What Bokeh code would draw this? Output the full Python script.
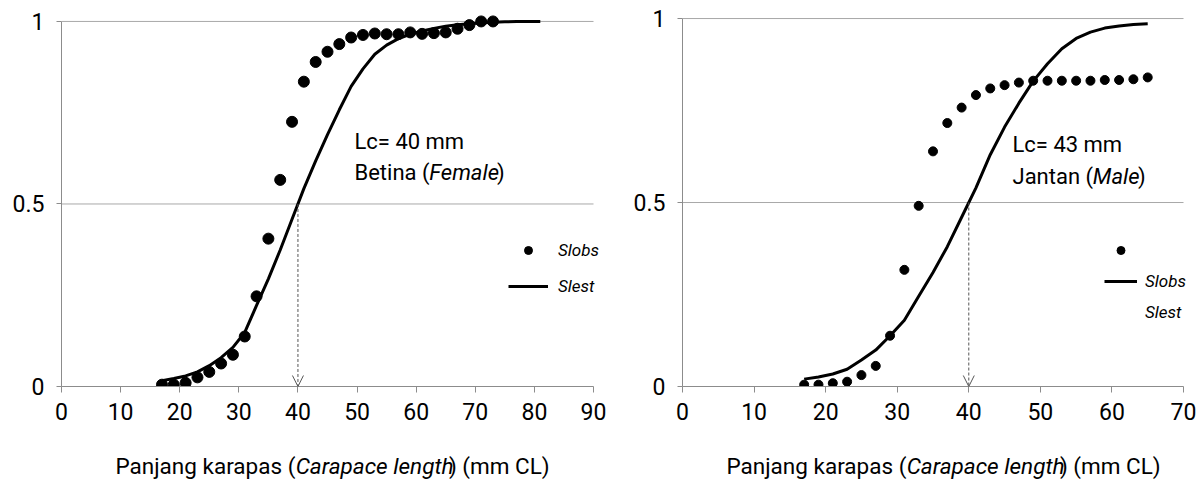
from bokeh.plotting import figure
from bokeh.layouts import row, column
from bokeh.models import Range1d, FixedTicker, Label, Arrow, OpenHead, Legend, LegendItem
from bokeh.embed import file_html
from bokeh.resources import INLINE

# ---------------- data ----------------
female_len_obs = [17, 19, 21, 23, 25, 27, 29, 31, 33, 35, 37, 39, 41, 43, 45, 47, 49, 51, 53, 55,
                  57, 59, 61, 63, 65, 67, 69, 71, 73]
female_si_obs = [0.005, 0.005, 0.01, 0.025, 0.04, 0.063, 0.087, 0.137, 0.247, 0.405, 0.566, 0.725,
                 0.835, 0.889, 0.917, 0.938, 0.956, 0.963, 0.967, 0.965, 0.965, 0.97, 0.966, 0.968,
                 0.97, 0.98, 0.99, 1.0, 1.0]
female_len_est = [17, 19, 21, 23, 25, 27, 29, 31, 33, 35, 37, 39, 41, 43, 45, 47, 49, 51, 53, 55,
                  57, 59, 61, 63, 65, 67, 69, 71, 73, 75, 77, 79, 81]
female_si_est = [0.016, 0.022, 0.029, 0.040, 0.057, 0.079, 0.107, 0.148, 0.222, 0.295, 0.374, 0.458,
                 0.542, 0.618, 0.69, 0.758, 0.822, 0.87, 0.91, 0.935, 0.953, 0.965, 0.974, 0.981,
                 0.987, 0.991, 0.994, 0.996, 0.998, 0.999, 1.0, 1.0, 1.0]

male_len_obs = [17, 19, 21, 23, 25, 27, 29, 31, 33, 35, 37, 39, 41, 43, 45, 47, 49, 51, 53, 55,
                57, 59, 61, 63, 65]
male_si_obs = [0.005, 0.005, 0.009, 0.013, 0.031, 0.056, 0.138, 0.317, 0.491, 0.639, 0.716, 0.758,
               0.792, 0.81, 0.819, 0.826, 0.831, 0.831, 0.831, 0.831, 0.831, 0.833, 0.833, 0.835, 0.84]
male_len_est = [17, 19, 21, 23, 25, 27, 29, 31, 33, 35, 37, 39, 41, 43, 45, 47, 49, 51, 53, 55,
                57, 59, 61, 63, 65]
male_si_est = [0.02, 0.026, 0.034, 0.047, 0.072, 0.099, 0.138, 0.18, 0.245, 0.31, 0.38, 0.46,
               0.54, 0.63, 0.705, 0.77, 0.83, 0.877, 0.918, 0.946, 0.963, 0.974, 0.98, 0.984, 0.986]

female_xticks = [0, 10, 20, 30, 40, 50, 60, 70, 80, 90]
male_xticks = [0, 10, 20, 30, 40, 50, 60, 70]
yticks = [0, 0.5, 1]
ytick_labels = ["0", "0.5", "1"]

female_lc_text = "Lc= 40 mm"
male_lc_text = "Lc= 43 mm"
female_arrow_x = 40
male_arrow_x = 40
arrow_y_top = 0.5
legend_obs = "Slobs"
legend_est = "Slest"
xlabel_parts = ["Panjang karapas (", "Carapace length", ") (mm CL)"]
female_sex = ["Betina (", "Female", ")"]
male_sex = ["Jantan (", "Male", ")"]

# ---------------- styling helpers ----------------
FONT = "Roboto"
AXIS_COLOR = "#8c8c8c"
GRID_COLOR = "#a8a8a8"
YTOP = 1.03
CH = 440      # chart height
SH = 40       # strip height (x axis title)
BB = 54       # chart bottom border
TEXT_SHIFT = 9
ITALIC_F = 0.94
XLABEL_SIZE = 22.5

_W = {' ': 507, '(': 683, ')': 695, '=': 1114, 'L': 1102, 'c': 1072, 'm': 1794, 'B': 1276,
      'e': 1085, 't': 669, 'i': 496, 'n': 1130, 'a': 1114, 'F': 1134, 'l': 496, 'J': 1130,
      'M': 1791, 'P': 1292, 'j': 490, 'g': 1150, 'k': 1038, 'r': 693, 'p': 1150, 's': 1056,
      'C': 1336, 'h': 1130}
STYLES = ["normal", "italic", "normal"]


def tw(txt, size, italic):
    return sum(_W.get(ch, 1100) for ch in txt) / 2048.0 * size * (ITALIC_F if italic else 1.0)


def make_panel(fig_w, border_l, border_t, sx, xticks,
               lx_obs, sy_obs, lx_est, sy_est, dot_size, arrow_x,
               lc_text, lc_pos, sex_parts, sex_pos, xlabel_start, legend_cfg, male_style):
    border_r = 3
    frame_w = fig_w - border_l - border_r
    xrange_max = frame_w / sx
    frame_h = CH - border_t - BB
    sy = frame_h / YTOP
    bottom_px = border_t + frame_h

    def dx(px):
        return (px - border_l) / sx

    def dy(py):
        return (bottom_px - py) / sy

    p = figure(width=fig_w, height=CH, x_range=Range1d(0, xrange_max), y_range=Range1d(0, YTOP),
               output_backend="svg", toolbar_location=None,
               min_border_left=border_l, min_border_right=border_r,
               min_border_top=border_t, min_border_bottom=BB)
    p.outline_line_color = None
    p.background_fill_color = "white"
    p.border_fill_color = "white"

    p.xaxis.ticker = FixedTicker(ticks=xticks)
    p.xaxis.bounds = (xticks[0], xticks[-1])
    p.yaxis.ticker = FixedTicker(ticks=yticks)
    p.yaxis.major_label_overrides = {t: lab for t, lab in zip(yticks, ytick_labels)}
    p.yaxis.bounds = (yticks[0], yticks[-1])
    for ax in (p.xaxis[0], p.yaxis[0]):
        ax.axis_line_color = AXIS_COLOR
        ax.major_tick_line_color = AXIS_COLOR
        ax.minor_tick_line_color = None
        ax.major_tick_in = 0
        ax.major_label_text_font = FONT
        ax.major_label_text_font_size = "23px"
        ax.major_label_text_color = "black"
    p.xaxis.major_tick_out = 6
    p.xaxis.major_label_standoff = 10
    p.yaxis.major_tick_out = 5
    p.yaxis.major_label_standoff = 12
    p.xgrid.visible = False
    p.ygrid.visible = False

    gy = yticks[1:]
    p.segment(x0=[xticks[0]] * len(gy), y0=gy, x1=[xticks[-1]] * len(gy), y1=gy,
              line_color=GRID_COLOR, line_width=1)

    r_est = p.line(lx_est, sy_est, line_width=3, color="black")
    r_obs = p.scatter(lx_obs, sy_obs, size=dot_size, color="black")

    arrow = Arrow(end=OpenHead(size=11, line_color="#555555", line_width=1),
                  x_start=arrow_x, y_start=arrow_y_top, x_end=arrow_x, y_end=0,
                  line_color="#555555", line_width=1, line_dash="3 2")
    p.add_layout(arrow)

    p.add_layout(Label(x=dx(lc_pos[0]), y=dy(lc_pos[1] - TEXT_SHIFT), text=lc_text, text_font=FONT,
                       text_font_size="22px", text_baseline="alphabetic", text_color="black"))
    x0 = sex_pos[0]
    for part, st in zip(sex_parts, STYLES):
        p.add_layout(Label(x=dx(x0), y=dy(sex_pos[1] - TEXT_SHIFT), text=part, text_font=FONT,
                           text_font_style=st, text_font_size="22px",
                           text_baseline="alphabetic", text_color="black"))
        x0 += tw(part, 22, st == "italic")

    if male_style:
        r_blank = p.line([], [], line_alpha=0)
        items = [LegendItem(label=" ", renderers=[r_obs]),
                 LegendItem(label=legend_obs, renderers=[r_est]),
                 LegendItem(label=legend_est, renderers=[r_blank])]
    else:
        items = [LegendItem(label=legend_obs, renderers=[r_obs]),
                 LegendItem(label=legend_est, renderers=[r_est])]
    gl, gtop, gw, gh, sp, standoff = legend_cfg
    n = len(items)
    box_h = n * gh + (n - 1) * sp
    leg = Legend(items=items, location=(gl - border_l, bottom_px - (gtop + box_h)),
                 glyph_width=gw, glyph_height=gh, label_height=gh, spacing=sp,
                 label_standoff=standoff, padding=0, margin=0,
                 border_line_color=None, background_fill_alpha=0,
                 label_text_font=FONT, label_text_font_size="17px",
                 label_text_font_style="italic", label_text_color="black")
    p.add_layout(leg)

    # strip below: frame is aligned with the chart frame, so reuse the same x mapping
    s = figure(width=fig_w, height=SH, x_range=Range1d(0, xrange_max), y_range=Range1d(0, SH),
               output_backend="svg", toolbar_location=None,
               x_axis_location=None, y_axis_location=None,
               min_border_left=border_l, min_border_right=border_r,
               min_border_top=0, min_border_bottom=0)
    s.outline_line_color = None
    s.xgrid.visible = False
    s.ygrid.visible = False
    s.background_fill_color = "white"
    s.border_fill_color = "white"
    baseline_from_bottom = (CH + SH) - (474 - TEXT_SHIFT)
    x0 = xlabel_start
    for part, st in zip(xlabel_parts, STYLES):
        s.add_layout(Label(x=dx(x0), y=baseline_from_bottom, text=part, text_font=FONT,
                           text_font_style=st, text_font_size=f"{XLABEL_SIZE}px",
                           text_baseline="alphabetic", text_color="black"))
        x0 += tw(part, XLABEL_SIZE, st == "italic")
    return column(p, s)


left = make_panel(610, 61, 10, 532 / 90, female_xticks,
                  female_len_obs, female_si_obs, female_len_est, female_si_est, 11,
                  female_arrow_x, female_lc_text, (354, 150), female_sex, (354, 181), 115,
                  (508, 240, 40, 20, 16, 10), False)
right = make_panel(594, 72, 7, 501 / 70, male_xticks,
                   male_len_obs, male_si_obs, male_len_est, male_si_est, 9,
                   male_arrow_x, male_lc_text, (1012 - 610, 153), male_sex, (1012 - 610, 185),
                   726 - 610, (1104 - 610, 240, 33, 20, 11, 8), True)

layout = row(left, right)
open("out.html", "w").write(file_html(layout, INLINE))
